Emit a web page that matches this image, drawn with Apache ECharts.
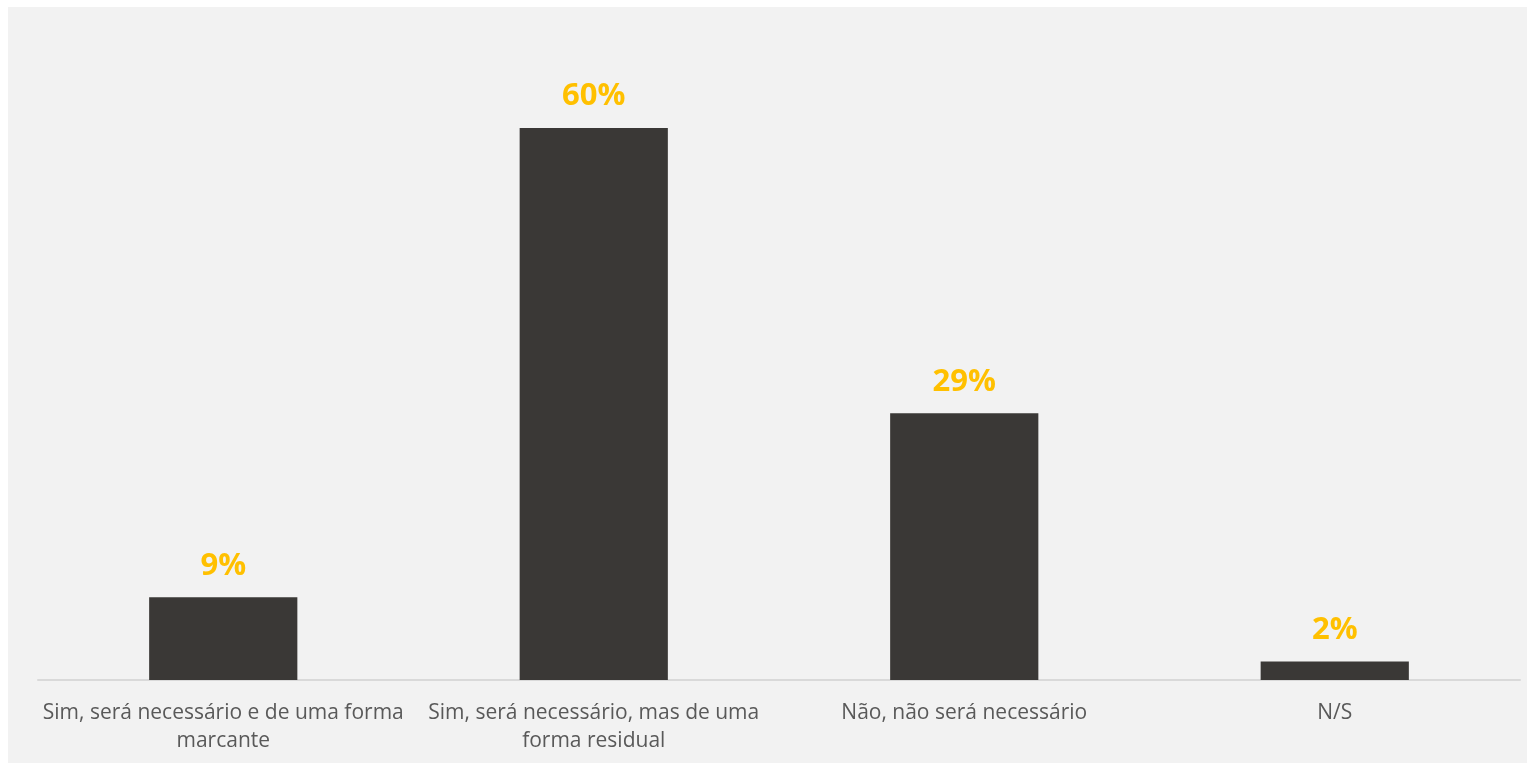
<!DOCTYPE html>
<html>
<head>
<meta charset="utf-8">
<script src="https://cdn.jsdelivr.net/npm/echarts@6/dist/echarts.min.js"></script>
<style>
  html, body { margin: 0; padding: 0; background: #ffffff; width: 1527px; height: 763px; overflow: hidden; }
  #chart { position: absolute; left: 8px; top: 7px; width: 1519px; height: 756px; background: #f2f2f2; }
</style>
</head>
<body>
<div id="chart"></div>
<script>
const categories = [
  "Sim, será necessário e de uma forma\nmarcante",
  "Sim, será necessário, mas de uma\nforma residual",
  "Não, não será necessário",
  "N/S"
];
const values = [9, 60, 29, 2];

const chart = echarts.init(document.getElementById('chart'), null, { renderer: 'canvas' });
chart.setOption({
  backgroundColor: '#f2f2f2',
  animation: false,
  grid: { left: 30, right: 7, top: 29, bottom: 83, containLabel: false },
  xAxis: {
    type: 'category',
    data: categories,
    axisLine: { show: true, lineStyle: { color: '#d9d9d9', width: 2 } },
    axisTick: { show: false },
    axisLabel: {
      interval: 0,
      margin: 19,
      color: '#595959',
      fontFamily: 'Open Sans',
      fontSize: 21,
      lineHeight: 28,
      align: 'center'
    }
  },
  yAxis: {
    type: 'value',
    min: 0,
    max: 70,
    show: false,
    splitLine: { show: false }
  },
  series: [{
    type: 'bar',
    data: values,
    barWidth: '40%',
    itemStyle: { color: '#3a3836' },
    label: {
      show: true,
      position: 'top',
      distance: 16,
      formatter: '{c}%',
      color: '#ffc000',
      fontFamily: 'Open Sans',
      fontWeight: 'bold',
      fontSize: 31
    }
  }]
});
</script>
</body>
</html>
